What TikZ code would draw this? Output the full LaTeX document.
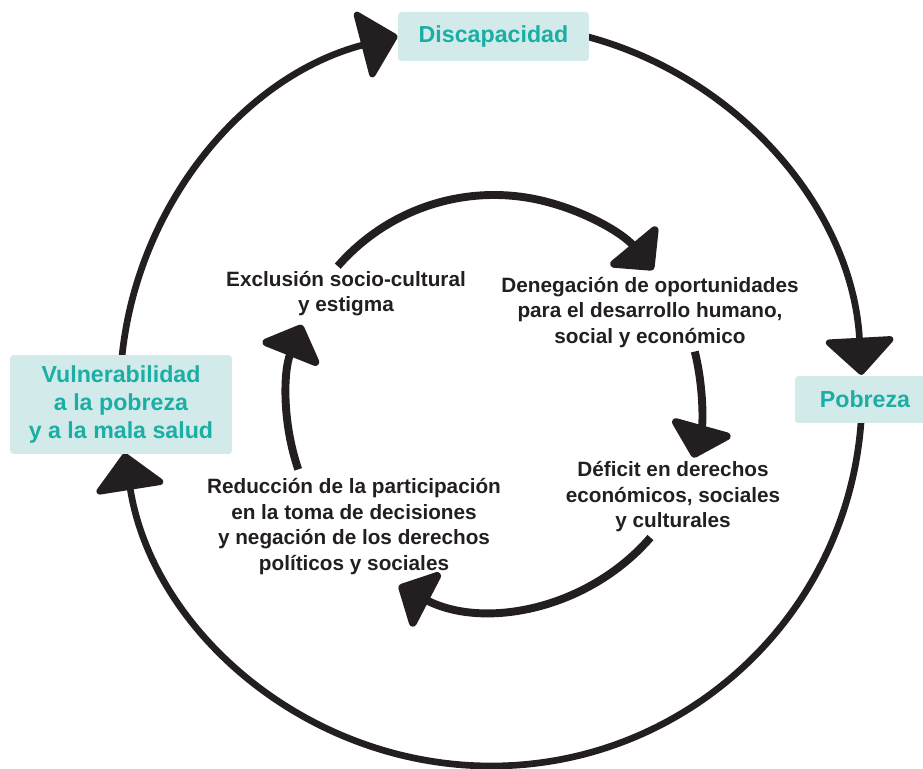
\documentclass[tikz,border=0pt]{standalone}
\usepackage{fontspec}
\setmainfont{Liberation Sans}
\usepackage{tikz}
\usetikzlibrary{arrows.meta}

\definecolor{cycleteal}{HTML}{1AAEA5}
\definecolor{cyclebox}{HTML}{D2EBEA}
\definecolor{cycleink}{HTML}{231F20}

\begin{document}
\begin{tikzpicture}[x=0.02cm, y=0.02cm,
    outerloop/.style={color=cycleink, line width=3.8pt,
        -{Triangle[length=22pt, width=43pt, round, fill=cycleink]}},
    innerloop/.style={color=cycleink, line width=4.5pt,
        -{Triangle[length=20pt, width=40pt, round, fill=cycleink]}},
    keybox/.style={fill=cyclebox, rounded corners=2pt, text=cycleteal,
        font=\fontsize{13.2}{15.9}\selectfont\bfseries, align=center, inner sep=0pt},
    stage/.style={text=cycleink, font=\fontsize{11.8}{14.5}\selectfont\bfseries,
        align=center}
]
\useasboundingbox (0,0) rectangle (923,768);

% Outer loop
\draw[outerloop] (491,373) ++(180:371) arc (180:104.6:371);
\draw[outerloop] (491,373) ++(80:371) arc (80:3.1:371);
\draw[outerloop] (491,373) ++(-2:371) arc (-2:-171:371);

% Inner loop
\draw[innerloop] (494,366) ++(139:207) arc (139:39.7:207);
\draw[innerloop] (494,366) ++(14.1:207) arc (14.1:-15.6:207);
\draw[innerloop] (494,366) ++(-40.9:207) arc (-40.9:-117.4:207);
\draw[innerloop] (494,366) ++(199:207) arc (199:158.1:207);

% Boxes
\node[keybox, minimum width=3.82cm, minimum height=0.98cm] (disc) at (493.5,731.5) {Discapacidad};
\node[keybox, minimum width=2.8cm, minimum height=0.94cm] (pob) at (865,368.5) {Pobreza};
\node[keybox, minimum width=4.44cm, minimum height=1.98cm] (vul) at (121,363.5)
    {Vulnerabilidad\\a la pobreza\\y a la mala salud};

% Stages
\node[stage] (excl) at (346,474.5) {Exclusión socio-cultural\\y estigma};
\node[stage] (deneg) at (650,455.5) {Denegación de oportunidades\\para el desarrollo humano,\\social y económico};
\node[stage] (defic) at (673,271) {Déficit en derechos\\económicos, sociales\\y culturales};
\node[stage] (reduc) at (354,241.5) {Reducción de la participación\\en la toma de decisiones\\y negación de los derechos\\políticos y sociales};
\end{tikzpicture}
\end{document}
